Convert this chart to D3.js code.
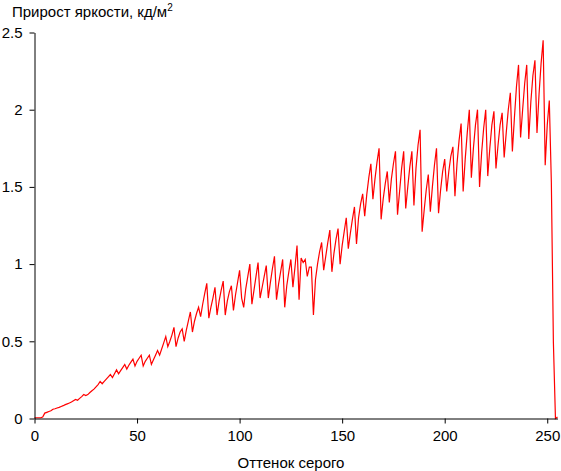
<!DOCTYPE html>
<html><head><meta charset="utf-8">
<script src="https://cdn.jsdelivr.net/npm/d3@7"></script>
<style>body{margin:0;background:#fff}svg{display:block}text{font-family:"Liberation Sans",Arial,sans-serif;font-size:15px;fill:#000}</style>
</head><body><svg id="c" width="561" height="471"></svg>
<script>
const xTicks = [0, 50, 100, 150, 200, 250];
const yTicks = [0, 0.5, 1, 1.5, 2, 2.5];
const yTickLabels = ["0", "0.5", "1", "1.5", "2", "2.5"];
const yTitle = "Прирост яркости, кд/м";
const xTitle = "Оттенок серого";
// brightness increment per grey level 0..255
const increment = [
0.005,0.005,0.005,0.005,0.01,0.035,0.04,0.045,0.05,0.06,
0.063,0.068,0.072,0.078,0.083,0.09,0.095,0.10,0.107,0.115,
0.123,0.118,0.13,0.142,0.155,0.148,0.155,0.168,0.18,0.19,
0.205,0.22,0.24,0.225,0.24,0.255,0.27,0.285,0.265,0.29,
0.315,0.29,0.31,0.33,0.35,0.32,0.345,0.365,0.385,0.34,
0.37,0.39,0.41,0.34,0.37,0.39,0.41,0.35,0.38,0.41,
0.44,0.41,0.45,0.49,0.53,0.465,0.50,0.54,0.59,0.465,
0.52,0.56,0.58,0.50,0.57,0.63,0.69,0.56,0.63,0.68,
0.72,0.66,0.74,0.81,0.875,0.65,0.72,0.78,0.85,0.67,
0.76,0.83,0.89,0.67,0.76,0.82,0.86,0.70,0.80,0.88,
0.96,0.78,0.72,0.84,0.92,1.00,0.74,0.83,0.92,1.01,
0.78,0.85,0.92,0.99,0.78,0.88,0.97,1.05,0.77,0.87,
0.95,1.03,0.72,0.86,0.95,1.03,0.85,0.98,1.12,0.77,
1.04,1.01,1.03,0.92,0.98,0.98,0.67,0.90,1.00,1.08,
1.14,0.96,1.05,1.14,1.22,0.95,1.07,1.16,1.23,1.00,
1.12,1.21,1.30,1.10,1.20,1.29,1.37,1.13,1.30,1.39,
1.455,1.31,1.45,1.56,1.65,1.42,1.55,1.66,1.75,1.29,
1.42,1.52,1.60,1.40,1.55,1.65,1.73,1.32,1.47,1.62,
1.73,1.36,1.50,1.63,1.73,1.38,1.62,1.77,1.87,1.21,
1.35,1.48,1.58,1.34,1.50,1.64,1.75,1.33,1.48,1.60,
1.68,1.47,1.60,1.70,1.76,1.44,1.65,1.80,1.91,1.47,
1.68,1.85,2.00,1.56,1.75,1.90,2.00,1.50,1.72,1.88,
2.00,1.57,1.75,1.90,1.99,1.62,1.77,1.90,1.98,1.69,
1.85,2.00,2.11,1.73,1.95,2.15,2.29,1.82,2.00,2.17,
2.29,1.81,2.05,2.22,2.32,1.85,2.10,2.30,2.45,1.64,
1.90,2.06,1.53,0.49,0.0,0.01
];

const svg = d3.select("#c");
const x = d3.scaleLinear().domain([0, 255]).range([34.5, 557.5]);
const y = d3.scaleLinear().domain([0, 2.5]).range([418.5, 32.5]);

const line = d3.line().x((d, i) => x(i)).y(d => y(d));
svg.append("path").datum(increment)
  .attr("d", line).attr("fill", "none").attr("stroke", "#ff0000").attr("stroke-width", 1.2);

const xAxis = svg.append("g").attr("transform", `translate(0,${y(0)})`)
  .call(d3.axisBottom(x).tickValues(xTicks).tickSize(5).tickPadding(7).tickSizeOuter(0));
const yAxis = svg.append("g").attr("transform", `translate(${x(0)},0)`)
  .call(d3.axisLeft(y).tickValues(yTicks).tickFormat((d, i) => yTickLabels[i]).tickSize(5).tickPadding(7).tickSizeOuter(0));
[xAxis, yAxis].forEach(g => {
  g.selectAll("path,line").attr("stroke", "#000").attr("stroke-width", 1);
  g.selectAll("text").style("font-size", "15px").attr("fill", "#000")
   .style("font-family", '"Liberation Sans",Arial,sans-serif');
});

const t = svg.append("text").attr("x", 12).attr("y", 17);
t.append("tspan").text(yTitle);
t.append("tspan").attr("dy", -6).style("font-size", "10px").text("2");
svg.append("text").attr("x", 291).attr("y", 468).attr("text-anchor", "middle").text(xTitle);
</script></body></html>
